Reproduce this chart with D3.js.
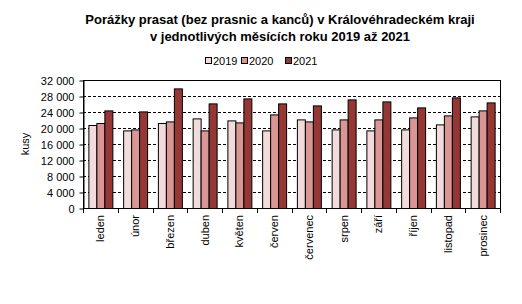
<!DOCTYPE html>
<html><head><meta charset="utf-8">
<script src="https://cdn.jsdelivr.net/npm/d3@7"></script>
<style>body{margin:0;background:#fff}svg{display:block}text{font-family:"Liberation Sans",Arial,sans-serif}</style>
</head><body><svg id="c" width="522" height="304"></svg>
<script>
const months = ["leden","únor","březen","duben","květen","červen","červenec","srpen","září","říjen","listopad","prosinec"];
const series = ["2019","2020","2021"];
const v2019 = [20750,19400,21250,22400,21900,19400,22150,19650,19400,19650,20900,22900];
const v2020 = [21250,19650,21650,19400,21400,23400,21650,22150,22150,22650,23150,24400];
const v2021 = [24400,24150,29900,26150,27400,26150,25650,27150,26650,25150,27650,26400];
const yTicks = [0,4000,8000,12000,16000,20000,24000,28000,32000];
const colors = ["#F2DCDB","#D99694","#953735"];
const values = [v2019,v2020,v2021];

const svg = d3.select("#c");
const L=83, R=500, T=80, B=208;
const x = d3.scaleBand().domain(months).range([L,R]).paddingInner(0.31).paddingOuter(0.155);
const xs = d3.scaleBand().domain(series).range([0,x.bandwidth()]);
const y = d3.scaleLinear().domain([0,32000]).range([B,T]);
const fmt = d => d3.format(",")(d).replace(/,/g," ");

// gridlines
svg.append("g").selectAll("line").data(yTicks.filter(d=>d>0&&d<32000)).join("line")
  .attr("x1",L).attr("x2",R).attr("y1",d=>y(d)+0.5).attr("y2",d=>y(d)+0.5)
  .attr("stroke","#000").attr("stroke-width",1).attr("stroke-dasharray","3,2");

// bars
months.forEach((m,i)=>{
  series.forEach((s,j)=>{
    const v = values[j][i];
    svg.append("rect").attr("x",x(m)+xs(s)+0.5).attr("y",y(v)+0.5)
      .attr("width",xs.bandwidth()).attr("height",B-y(v))
      .attr("fill",colors[j]).attr("stroke","#000").attr("stroke-width",1);
  });
});

// frame
svg.append("rect").attr("x",L+0.5).attr("y",T+0.5).attr("width",R-L).attr("height",B-T)
  .attr("fill","none").attr("stroke","#000");

// y axis
const ya = svg.append("g").attr("transform",`translate(${L+0.5},0.5)`)
  .call(d3.axisLeft(y).tickValues(yTicks).tickFormat(fmt).tickSize(4).tickSizeOuter(0));
ya.select(".domain").attr("stroke","#000");
ya.selectAll("text").attr("font-size","11px").attr("fill","#000").attr("font-family","Liberation Sans, Arial, sans-serif").attr("dx","-2");

// x axis ticks at category boundaries
const bounds = d3.range(13).map(i=>L+(R-L)*i/12);
svg.append("g").selectAll("line").data(bounds).join("line")
  .attr("x1",d=>Math.round(d)+0.5).attr("x2",d=>Math.round(d)+0.5).attr("y1",B).attr("y2",B+5)
  .attr("stroke","#000");
svg.append("g").selectAll("text").data(months).join("text")
  .attr("transform",d=>`translate(${x(d)+x.bandwidth()/2+4},${215}) rotate(-90)`)
  .attr("text-anchor","end").attr("font-size","11px").attr("fill","#000").text(d=>d);

// y label
svg.append("text").attr("transform","translate(29,144) rotate(-90)").attr("text-anchor","middle")
  .attr("font-size","11px").text("kusy");

// title
const title = svg.append("text").attr("text-anchor","middle").attr("font-size","13px").attr("font-weight","bold");
title.append("tspan").attr("x",280).attr("y",24).text("Porážky prasat (bez prasnic a kanců) v Královéhradeckém kraji");
title.append("tspan").attr("x",280).attr("y",41).text("v jednotlivých měsících roku 2019 až 2021");

// legend
const lx=[205,241,285];
series.forEach((s,j)=>{
  svg.append("rect").attr("x",lx[j]+0.5).attr("y",57.5).attr("width",6).attr("height",6)
    .attr("fill",colors[j]).attr("stroke","#000");
  svg.append("text").attr("x",lx[j]+8).attr("y",64.5).attr("font-size","11px").text(s);
});
</script></body></html>
